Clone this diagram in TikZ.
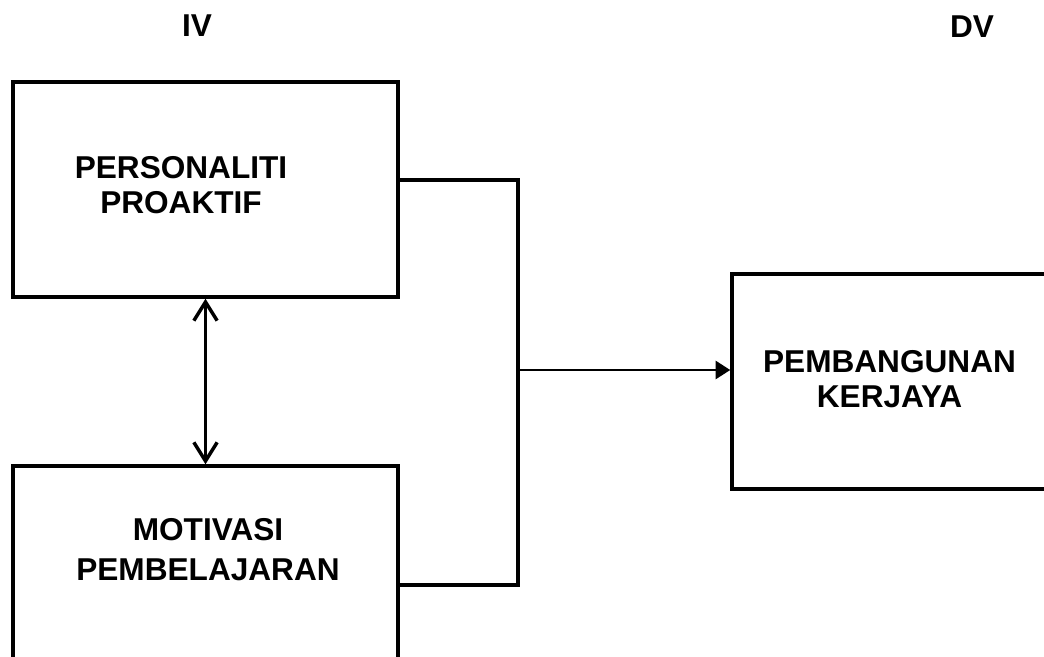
\documentclass[tikz,border=0pt]{standalone}
\usepackage{fontspec}
\setmainfont{Liberation Sans}
\usetikzlibrary{arrows.meta}
\begin{document}
\begin{tikzpicture}[x=0.75pt,y=-0.75pt,
  box/.style={draw, line width=2.6pt, rectangle, inner sep=0pt,
              minimum width=288.75pt, minimum height=161.25pt},
  lbl/.style={font=\bfseries\fontsize{23.7pt}{26.25pt}\selectfont, align=center, inner sep=0pt},
  wire/.style={line width=2.6pt},
  dbl/.style={line width=2.6pt, {Straight Barb[length=14pt,width=17.5pt]}-{Straight Barb[length=14pt,width=17.5pt]}},
  arr/.style={line width=2.1pt, -{Triangle[length=11pt,width=13.5pt]}}]
\useasboundingbox (0,0) rectangle (1044,656);
\fill[white] (0,0) rectangle (1044,656);
\clip (0,0) rectangle (1044,656);
% boxes
\node[box] (A) at (205.5,189.5) {};
\node[box] (B) at (205.5,573.5) {};
\node[box, minimum width=246pt] (C) at (896,381.5) {};
% texts
\node[lbl] (iv) at (197,26) {IV};
\node[lbl] (dv) at (972,26.5) {DV};
\node[lbl] (tA) at (181,185.5) {PERSONALITI\\PROAKTIF};
\node[lbl, font=\bfseries\fontsize{23.7pt}{30pt}\selectfont] (tB) at (208,549.5) {MOTIVASI\\PEMBELAJARAN};
\node[lbl] (tC) at (889.5,379.5) {PEMBANGUNAN\\KERJAYA};
% connectors
\coordinate (jt) at (518,180);
\coordinate (jb) at (518,585);
\coordinate (jm) at (518,370);
\draw[wire] (A.east |- jt) -- (jt) -- (jb) -- (B.east |- jb);
\draw[arr] (jm) -- (C.west |- jm);
\draw[dbl] (A.south) -- (B.north);
\end{tikzpicture}
\end{document}
